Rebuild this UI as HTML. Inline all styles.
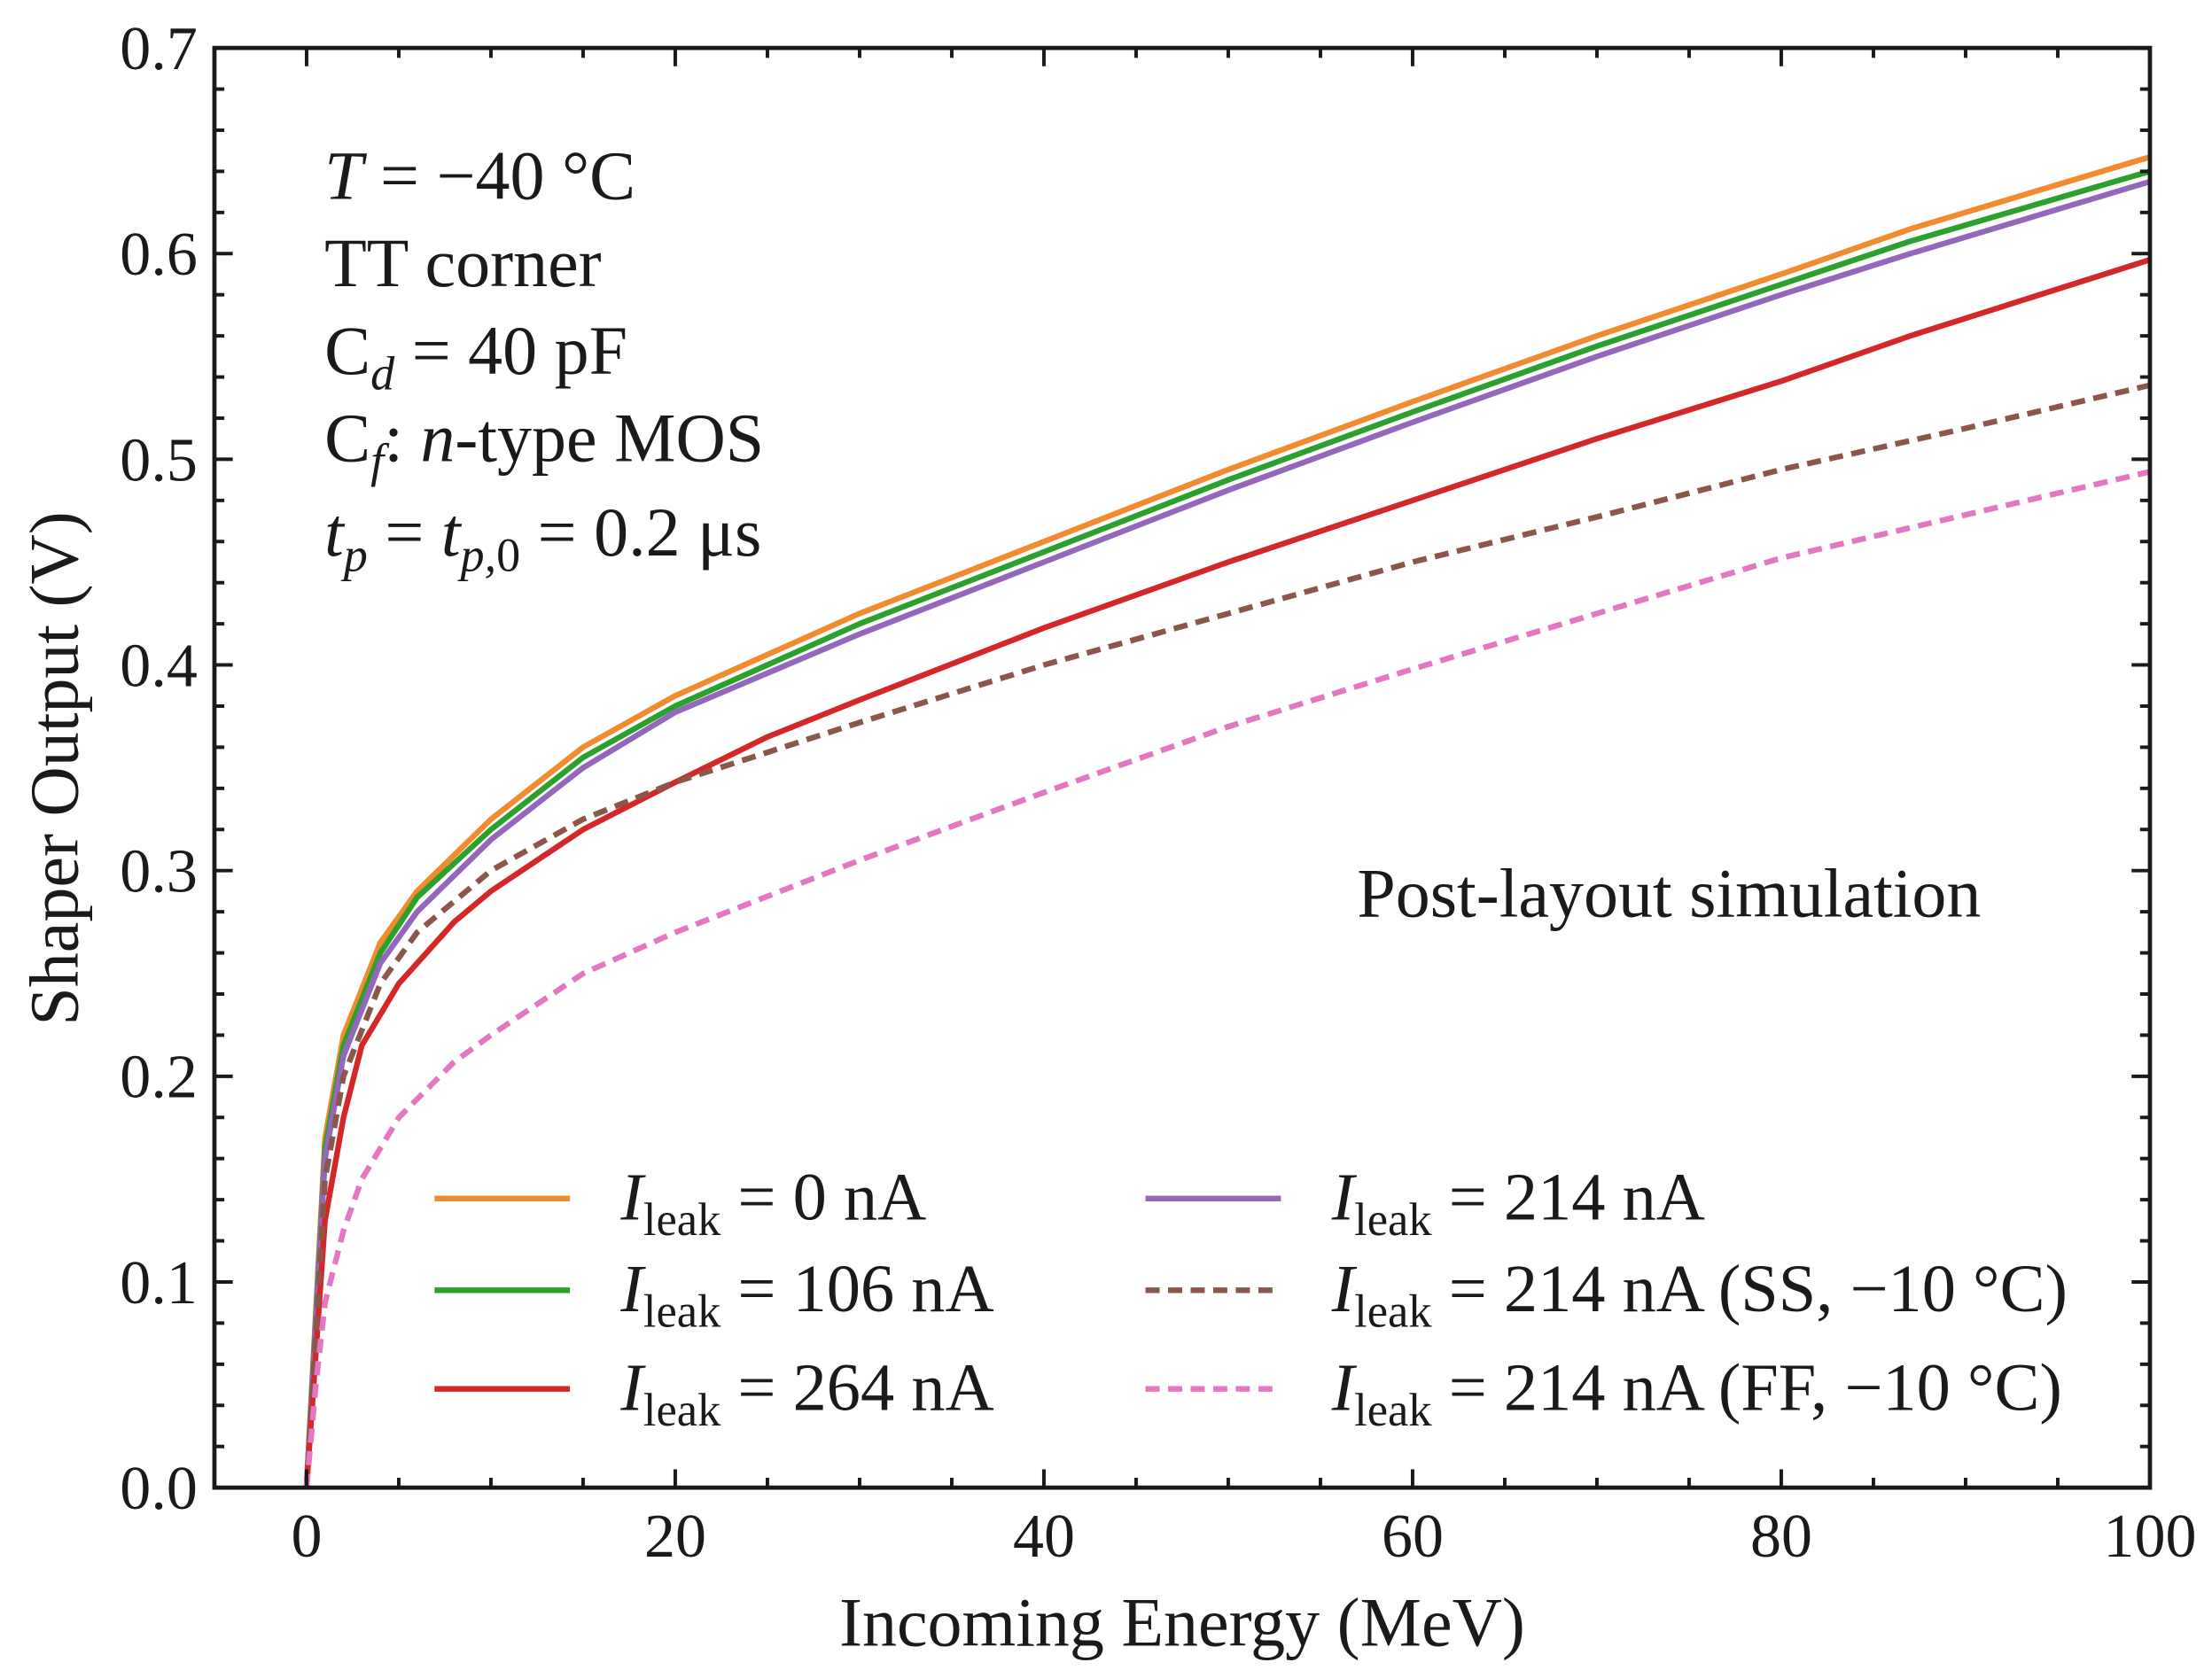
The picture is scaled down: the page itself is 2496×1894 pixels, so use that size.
<!DOCTYPE html>
<html><head><meta charset="utf-8"><style>
html,body{margin:0;padding:0;background:#fff}
svg{display:block}
text{font-family:"Liberation Serif",serif;fill:#1a1a1a}
</style></head><body>
<svg id="chart" width="2496" height="1894" viewBox="0 0 1568 1190" preserveAspectRatio="none" xmlns="http://www.w3.org/2000/svg">
<g id="marks"></g>
<g id="axes"></g>
<g font-size="49">
<text x="230" y="141"><tspan font-style="italic">T</tspan> = −40 °C</text>
<text x="230" y="203">TT corner</text>
<text x="230" y="265">C<tspan font-style="italic" font-size="34" dy="11">d</tspan><tspan dy="-11"> = 40 pF</tspan></text>
<text x="230" y="327">C<tspan font-style="italic" font-size="34" dy="11">f</tspan><tspan dy="-11">: </tspan><tspan font-style="italic">n</tspan>-type MOS</text>
<text x="230" y="394"><tspan font-style="italic">t</tspan><tspan font-style="italic" font-size="34" dy="11">p</tspan><tspan dy="-11"> = </tspan><tspan font-style="italic">t</tspan><tspan font-style="italic" font-size="34" dy="11">p,</tspan><tspan font-size="34">0</tspan><tspan dy="-11"> = 0.2 μs</tspan></text>
<text x="962" y="650">Post-layout simulation</text>
</g>
<text x="838" y="1167" font-size="49" text-anchor="middle">Incoming Energy (MeV)</text>
<text transform="translate(55,545) rotate(-90)" font-size="49" text-anchor="middle">Shaper Output (V)</text>
<g id="legend"></g>
</svg>
<script>
const xTicks=[0,20,40,60,80,100];
const yTicks=[0.0,0.1,0.2,0.3,0.4,0.5,0.6,0.7];
const yTickLabels=["0.0","0.1","0.2","0.3","0.4","0.5","0.6","0.7"];
const eOrange=[0,1,2,4,6,10,15,20,30,40,50,60,70,80,87,100];
const vOrange=[0,0.17,0.22,0.265,0.29,0.325,0.36,0.385,0.425,0.46,0.495,0.528,0.56,0.59,0.612,0.647];
const eGreen=[0,1,2,4,6,10,15,20,30,40,50,60,70,80,87,100];
const vGreen=[0,0.165,0.215,0.26,0.287,0.32,0.355,0.38,0.42,0.455,0.49,0.523,0.555,0.585,0.606,0.64];
const ePurple=[0,1,2,4,6,10,15,20,30,40,50,60,70,80,87,100];
const vPurple=[0,0.16,0.21,0.255,0.28,0.315,0.35,0.377,0.415,0.45,0.485,0.518,0.55,0.58,0.6,0.635];
const eRed=[0,1,2,3,5,8,10,15,20,25,30,40,50,60,70,80,87,100];
const vRed=[0,0.13,0.18,0.215,0.245,0.275,0.29,0.32,0.343,0.365,0.383,0.418,0.45,0.48,0.51,0.538,0.56,0.597];
const eSS=[0,1,2,4,6,10,15,20,30,40,50,60,70,80,90,100];
const vSS=[0,0.15,0.2,0.245,0.27,0.3,0.325,0.343,0.372,0.4,0.425,0.45,0.472,0.495,0.515,0.536];
const eFF=[0,0.5,1,2,3,5,8,10,15,20,30,40,50,60,70,80,90,100];
const vFF=[0,0.05,0.09,0.125,0.15,0.18,0.207,0.22,0.25,0.27,0.305,0.338,0.37,0.398,0.425,0.452,0.473,0.494];
const legendLabels=["0 nA","106 nA","214 nA","264 nA","214 nA (SS, −10 °C)","214 nA (FF, −10 °C)"];
const X0=152,X1=1524,Y0=1055,Y1=34,XMIN=-5,XMAX=100,YMIN=0,YMAX=0.7;
function sx(v){return X0+(v-XMIN)/(XMAX-XMIN)*(X1-X0);}
function sy(v){return Y0-(v-YMIN)/(YMAX-YMIN)*(Y0-Y1);}
const NS="http://www.w3.org/2000/svg";
function mk(tag,attrs,parent){const e=document.createElementNS(NS,tag);for(const k in attrs)e.setAttribute(k,attrs[k]);parent.appendChild(e);return e;}
const marks=document.getElementById('marks');
const series=[
 {e:eOrange,v:vOrange,c:"#f28a2e",d:null,n:"line-0na"},
 {e:eGreen,v:vGreen,c:"#2ca02c",d:null,n:"line-106na"},
 {e:ePurple,v:vPurple,c:"#9467bd",d:null,n:"line-214na"},
 {e:eRed,v:vRed,c:"#d62728",d:null,n:"line-264na"},
 {e:eSS,v:vSS,c:"#8c564b",d:"10 6",n:"line-214na-ss"},
 {e:eFF,v:vFF,c:"#e377c2",d:"10 6",n:"line-214na-ff"}];
series.forEach(s=>{
 const pts=s.e.map((e,i)=>sx(e).toFixed(1)+","+sy(s.v[i]).toFixed(1)).join(" ");
 const p=mk('polyline',{points:pts,fill:"none",stroke:s.c,"stroke-width":4,"stroke-linejoin":"round"},marks);
 if(s.d)p.setAttribute('stroke-dasharray',s.d);
 
 
});
const ax=document.getElementById('axes');
const frame=mk('rect',{x:X0,y:Y1,width:X1-X0,height:Y0-Y1,fill:"none",stroke:"#1a1a1a","stroke-width":3},ax);


for(let v=-5;v<=100;v+=5){
 const maj=xTicks.includes(v),L=maj?13:7,x=sx(v);
 mk('line',{x1:x,x2:x,y1:Y0,y2:Y0-L,stroke:"#1a1a1a","stroke-width":2.5},ax);
 mk('line',{x1:x,x2:x,y1:Y1,y2:Y1+L,stroke:"#1a1a1a","stroke-width":2.5},ax);
}
xTicks.forEach(v=>{const t=mk('text',{x:sx(v),y:1104,"font-size":44,"text-anchor":"middle"},ax);t.textContent=String(v);
 
 });
for(let i=0;i<=35;i++){
 const v=i*0.02,maj=(i%5===0),L=maj?13:7,y=sy(v);
 mk('line',{x1:X0,x2:X0+L,y1:y,y2:y,stroke:"#1a1a1a","stroke-width":2.5},ax);
 mk('line',{x1:X1,x2:X1-L,y1:y,y2:y,stroke:"#1a1a1a","stroke-width":2.5},ax);
}
yTicks.forEach((v,i)=>{const t=mk('text',{x:140,y:sy(v)+15,"font-size":44,"text-anchor":"end"},ax);t.textContent=yTickLabels[i];
 
 });
const lg=document.getElementById('legend');
const legendOrder=[0,1,3,2,4,5];
const rows=[850,915,985];
legendOrder.forEach((si,k)=>{
 const col=k<3?0:1,row=k%3,s=series[si];
 const lx=col?812:308,y=rows[row];
 const l=mk('line',{x1:lx,x2:lx+96,y1:y,y2:y,stroke:s.c,"stroke-width":4},lg);
 if(s.d)l.setAttribute('stroke-dasharray',s.d);
 
 
 const t=mk('text',{x:lx+132,y:y+15,"font-size":48},lg);
 t.innerHTML='<tspan font-style="italic">I</tspan><tspan font-size="33" dy="11">leak</tspan><tspan dy="-11"> = '+legendLabels[si]+'</tspan>';
 
 
});
</script>
</body></html>
